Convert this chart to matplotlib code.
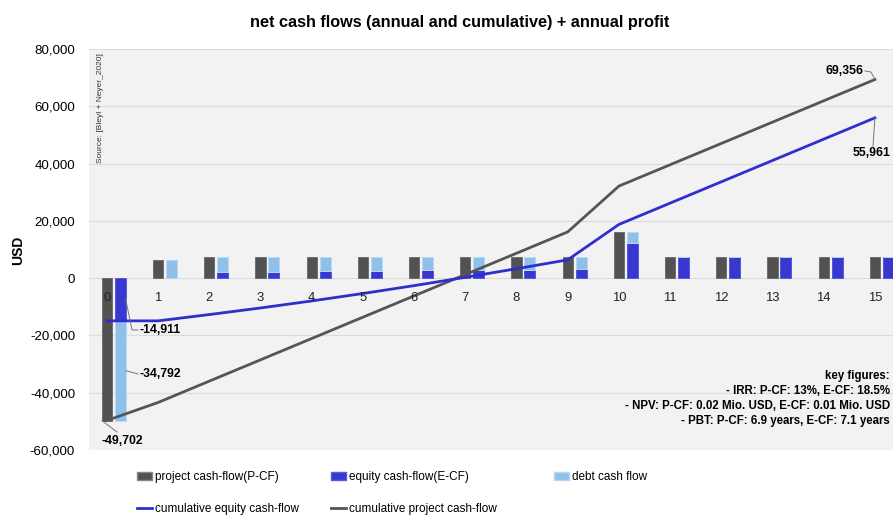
import matplotlib
matplotlib.use("Agg")
import matplotlib.pyplot as plt
from matplotlib.patches import Patch
from matplotlib.lines import Line2D
import numpy as np

plt.rcParams['font.family'] = ['Liberation Sans', 'DejaVu Sans']

years = list(range(16))
project_cf = [-49702, 6300, 7443, 7443, 7443, 7443, 7443, 7443, 7443, 7443, 15999, 7443, 7443, 7443, 7443, 7443]
equity_cf = [-14911, 0, 2200, 2300, 2450, 2600, 2750, 2900, 3000, 3100, 12357, 7443, 7443, 7443, 7443, 7443]
debt_cf = [-34792, 6300, 5243, 5143, 4993, 4843, 4693, 4543, 4443, 4343, 3642, 0, 0, 0, 0, 0]
cum_equity = np.cumsum(equity_cf)
cum_project = np.cumsum(project_cf)
yticks = [-60000, -40000, -20000, 0, 20000, 40000, 60000, 80000]
key_lines = ["key figures:",
             "- IRR: P-CF: 13%, E-CF: 18.5%",
             "- NPV: P-CF: 0.02 Mio. USD, E-CF: 0.01 Mio. USD",
             "- PBT: P-CF: 6.9 years, E-CF: 7.1 years"]

W, H = 893, 515
fig = plt.figure(figsize=(W/100, H/100), dpi=100)
fig.patch.set_facecolor('white')
L, R, T, B = 89, 893, 49, 450
ax = fig.add_axes([L/W, 1-B/H, (R-L)/W, (B-T)/H])
ax.set_facecolor('#f2f2f2')
x0 = -0.35
step = 51.2
ax.set_xlim(x0, x0 + (R-L)/step)
ax.set_ylim(-60000, 80000)

def px2d(px, py):
    xd = (px - L)/step + x0
    yd = 80000 - (py - T)/(B - T)*140000
    return xd, yd

grey = '#525252'
blue = '#3838cf'
lblue = '#8fc0ea'
x = np.array(years, dtype=float)
gw, bw, off = 0.2, 0.215, 0.26
ax.bar(x, project_cf, width=gw, color=grey, edgecolor='#6e6e6e', linewidth=0.7, zorder=3)
ax.bar(x + off, equity_cf, width=bw, color=blue, edgecolor='#5656e0', linewidth=0.7, zorder=3)
ax.bar(x + off, debt_cf, bottom=equity_cf, width=bw, color=lblue, edgecolor='#b8d8f4', linewidth=0.7, zorder=3)

ax.plot(x, cum_project, color='#555555', lw=2, zorder=4)
ax.plot(x, cum_equity, color='#2f2fd0', lw=2, zorder=5)

ax.set_yticks(yticks)
ax.set_yticklabels([f"{v:,}" for v in yticks], fontsize=9.6)
ax.tick_params(axis='y', length=0, pad=10)
ax.set_xticks([])
ax.grid(axis='y', color='#dcdcdc', lw=0.8, zorder=0)
for s in ax.spines.values():
    s.set_visible(False)

# category labels on the zero line
for xi in years:
    ax.text(xi, -6900, str(xi), ha='center', va='center', fontsize=9.4, color='#222222', zorder=6)

def lead(points):
    xs = [p[0] for p in points]; ys = [p[1] for p in points]
    ax.plot(xs, ys, color='#777777', lw=0.7, zorder=6)

ann = dict(fontsize=8.8, fontweight='bold', zorder=7)
bx = off + bw/2
lead([(bx, equity_cf[0]/2), px2d(132, 330), px2d(138, 330)])
tx, ty = px2d(140, 330)
ax.text(tx, ty, f"{equity_cf[0]:,}", ha='left', va='center', **ann)

lead([(bx, equity_cf[0] + debt_cf[0]/2), px2d(138, 374)])
tx, ty = px2d(140, 374)
ax.text(tx, ty, f"{debt_cf[0]:,}", ha='left', va='center', **ann)

lead([(-gw/2, project_cf[0]), px2d(117, 432)])
tx, ty = px2d(122, 441)
ax.text(tx, ty, f"{project_cf[0]:,}", ha='center', va='center', **ann)

lead([(15, cum_project[-1]), px2d(871, 72), px2d(865, 71)])
tx, ty = px2d(864, 71)
ax.text(tx, ty, f"{cum_project[-1]:,}", ha='right', va='center', **ann)

lead([(15, cum_equity[-1]), px2d(873, 146)])
tx, ty = px2d(872, 153)
ax.text(tx, ty, f"{cum_equity[-1]:,}", ha='center', va='center', **ann)

# key figures
for i, line in enumerate(key_lines):
    fig.text(890/W, 1 - (375.5 + i*15.3)/H, line, ha='right', va='center', fontsize=8.3, fontweight='bold')

# source
fig.text(101/W, 1 - 53/H, "Source: [Bleyl + Neyer_2020]", rotation=90, ha='center', va='top',
         fontsize=6.0, color='#333333')

# title & ylabel
fig.text(460/W, 1 - 22/H, "net cash flows (annual and cumulative) + annual profit", ha='center', va='center',
         fontsize=11.7, fontweight='bold')
fig.text(18/W, 1 - 250/H, "USD", rotation=90, ha='center', va='center', fontsize=10, fontweight='bold')

# legends
h_proj = Patch(facecolor=grey, edgecolor='#888888', label='project cash-flow(P-CF)')
h_eq = Patch(facecolor=blue, edgecolor='#5a5ae0', label='equity cash-flow(E-CF)')
h_debt = Patch(facecolor=lblue, edgecolor='#b8d6f2', label='debt cash flow')
h_ceq = Line2D([], [], color='#2f2fd0', lw=2, label='cumulative equity cash-flow')
h_cpr = Line2D([], [], color='#555555', lw=2, label='cumulative project cash-flow')

common = dict(frameon=False, fontsize=8.5, handlelength=1.25, handleheight=0.65, handletextpad=0.25,
              labelspacing=1.7, borderpad=0, borderaxespad=0, loc='upper left')
fig.legend(handles=[h_proj, h_ceq], bbox_to_anchor=(137/W, 1 - 471/H), **common)
fig.legend(handles=[h_eq, h_cpr], bbox_to_anchor=(331/W, 1 - 471/H), **common)
fig.legend(handles=[h_debt], bbox_to_anchor=(554/W, 1 - 471/H), **common)

fig.savefig('out.png', dpi=100, facecolor='white')
